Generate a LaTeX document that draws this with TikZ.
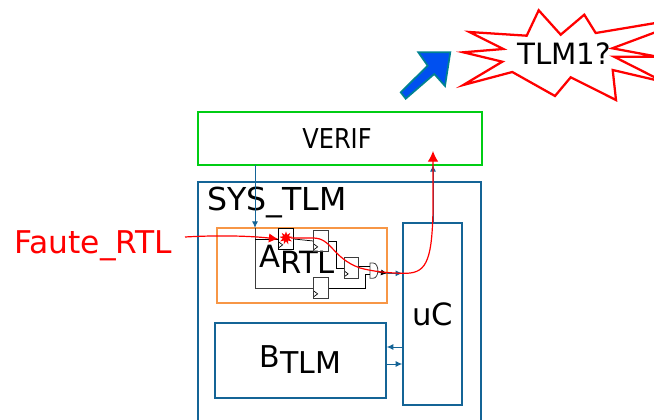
\documentclass[tikz,border=0pt]{standalone}
\usepackage{fontspec}
\setmainfont{DejaVu Sans}
\usepackage{tikz}
\usetikzlibrary{arrows.meta,shapes.geometric}

\definecolor{sysblue}{RGB}{20,100,150}
\definecolor{verifgreen}{RGB}{0,205,20}
\definecolor{blockorange}{RGB}{247,150,70}
\definecolor{bigblue}{RGB}{0,80,240}
\definecolor{bigteal}{RGB}{0,130,145}
\definecolor{wiregray}{RGB}{60,60,60}

\newcommand{\lowtext}[1]{\raisebox{-4.5pt}{#1}}

\tikzset{
    sysbox/.style={draw=sysblue, line width=1.1pt, inner sep=0pt},
    label/.style={inner sep=0pt, font=\fontsize{#1}{#1}\selectfont},
    fflop/.style={draw=wiregray, line width=0.7pt, minimum width=11pt, minimum height=15.6pt, inner sep=0pt,
        path picture={\draw[line width=0.5pt, black] ([xshift=0pt,yshift=5.6pt]path picture bounding box.south west)
            -- ([xshift=3pt,yshift=3.4pt]path picture bounding box.south west)
            -- ([xshift=0pt,yshift=1.2pt]path picture bounding box.south west);}},
    wire/.style={draw=black, line width=0.55pt},
    buswire/.style={draw=sysblue, line width=0.7pt, -{Latex[length=5pt,width=4.5pt]}},
    faultwire/.style={draw=red, line width=0.9pt}
}

\begin{document}
\begin{tikzpicture}[x=0.75pt,y=-0.75pt]
\useasboundingbox (0,0) rectangle (654,420);

% Blocks
\node[draw=verifgreen, line width=1.1pt, minimum width=213pt, minimum height=39.75pt, inner sep=0pt] (verif) at (340,138.5){};
\node[label=20.5] (veriftext) at (337,139){\scalebox{0.88}[1]{VERIF}};
\draw[sysbox] (198,430) -- (198,182) -- (481,182) -- (481,430);
\node[label=23.7, anchor=west] (systext) at (207,203){SYS\_TLM};
\node[draw=blockorange, line width=1pt, minimum width=127.5pt, minimum height=56.25pt, inner sep=0pt] (blocka) at (302,265.5){};
\node[sysbox, minimum width=44.25pt, minimum height=136.5pt] (uc) at (432.5,314){};
\node[label=23] (uctext) at (432.5,314){uC};
\node[sysbox, minimum width=128.25pt, minimum height=56.25pt] (blockb) at (300.5,360.5){};
\node[label=22.5] (btext) at (300.5,360){B\lowtext{TLM}};
\node[label=23] (atext) at (297,259){A\lowtext{RTL}};

% Logic inside A
\node[fflop, draw=black] (ffa) at (286,239){};
\node[fflop] (ffb) at (321,241){};
\node[fflop] (ffc) at (351.5,268){};
\node[fflop] (ffd) at (321,288){};
\draw[draw=wiregray, line width=0.6pt] (370,263) -- (373,263) .. controls (379.5,263) and (379.5,278.3) .. (373,278.3) -- (370,278.3) -- cycle;

\coordinate (andin1) at (370,266);
\coordinate (andin2) at (370,274);
\coordinate (andout) at (377.7,272);
\coordinate (verifout) at (255,165);
\coordinate (busin) at (255,228);
\coordinate (ucin) at (uc.west |- 0,273.3);
\coordinate (blockout) at (387,273.3);
\coordinate (uctop) at (433,223);
\coordinate (verifin) at (433,165);

% Connection
\draw[buswire] (verifout) -- (busin);
\draw[wire, draw=wiregray] (busin) -- (busin |- ffd.west) -- (ffd.west);
\draw[wire] (busin |- ffa.west) -- (ffa.west);
\draw[wire] (ffa.east) -- (ffb.west);
\draw[wire] (ffb.east) -- ++(8,0) |- (ffc.west);
\draw[wire] (ffc.east |- andin1) -- (andin1);
\draw[wire] (ffd.east) -| ([xshift=-3.4pt]andin2) -- (andin2);
\draw[wire, -{Latex[length=4.5pt,width=4.5pt]}] (andout) -- (blockout);
\draw[buswire] (blockout) -- (ucin);
\draw[buswire] (uctop) -- (verifin);
\draw[buswire] (uc.west |- 0,347) -- (blockb.east |- 0,347);
\draw[buswire] (blockb.east |- 0,364) -- (uc.west |- 0,364);

% Fault
\node[label=23.5, text=red, anchor=west] (fautetext) at (14,246){Faute\_RTL};
\node[star, star points=9, star point ratio=2, fill=red, inner sep=0pt, minimum size=10pt] (fault) at (286,238){};
\draw[faultwire, -{Latex[length=7pt,width=7pt]}] (185,237) .. controls (220,235) and (250,236) .. (ffa.west);
\draw[faultwire, -{Latex[length=8pt,width=8pt]}] (fault) -- (313,238) .. controls (332,238) and (332,258) .. (360,268)
    .. controls (375,272) and (390,273) .. (ucin) .. controls (425,274) and (432,265) .. (433,210) -- (433,151);

% Big arrow
\draw[fill=bigblue, draw=bigteal, line width=1.3pt] (400.7,92.3) -- (405.7,98.7) -- (434.3,74) -- (445,86)
    -- (450.3,52.3) -- (418.3,52.3) -- (427.7,65.7) -- cycle;

% Burst
\draw[draw=red, line width=1.7pt, fill=white] (469.3,32) -- (526.7,35.7) -- (538.7,10.3) -- (560.7,34.7) -- (584.3,14.7)
    -- (595.7,33) -- (700,15.6) -- (612.3,48.3) -- (658,56.8) -- (614,56.7) -- (664,82) -- (612.7,70) -- (616,100)
    -- (570.7,77.3) -- (555,96) -- (512.3,72) -- (463.3,85) -- (502.3,61.7) -- (463.3,52.3) -- (503.3,49) -- cycle;
\node[label=22] (tlmtext) at (564,54){TLM1?};

\end{tikzpicture}
\end{document}
